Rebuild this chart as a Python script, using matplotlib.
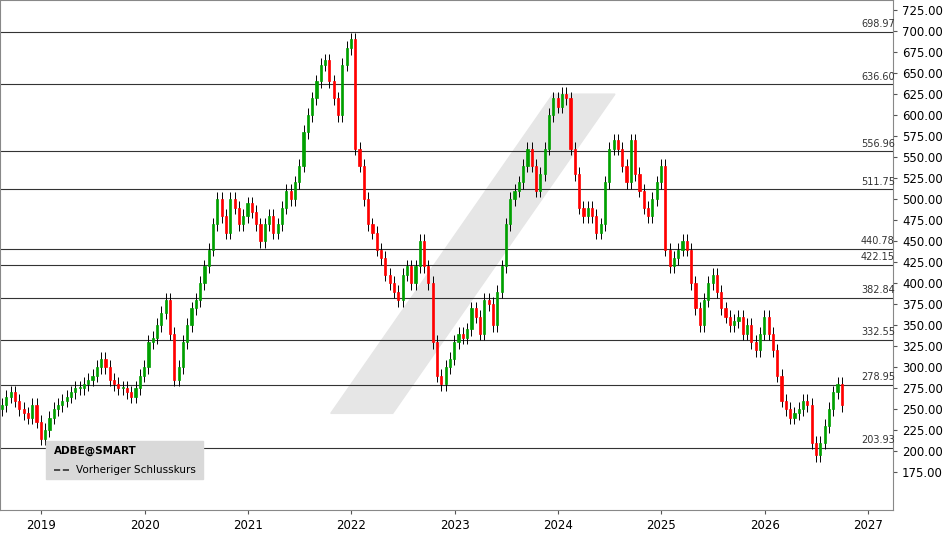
import matplotlib
matplotlib.use('Agg')
import numpy as np
import matplotlib.pyplot as plt
from matplotlib.patches import Polygon

# half-month closes (start ~2018.62)
closes = [255, 265, 270, 260, 250, 245, 240, 255, 235, 215,
          225, 240, 250, 255, 260, 265, 270, 275, 275, 280, 285, 290,
          300, 310, 300, 285, 280, 275, 275, 270, 265, 275, 290, 300,
          330, 335, 350, 365, 380, 340, 285, 300, 330, 350, 370, 380,
          400, 420, 440, 470, 500, 480, 460, 500, 490, 470, 480, 495,
          485, 470, 450, 470, 480, 460, 470, 490, 510, 500, 520, 540,
          580, 600, 620, 640, 660, 665, 640, 620, 600, 660, 680, 690,
          560, 540, 500, 470, 460, 440, 430, 410, 400, 390, 380, 410,
          420, 400, 420, 450, 420, 400, 330, 290, 280, 300, 310, 330,
          340, 335, 345, 370, 360, 340, 380, 375, 350, 390, 420, 470,
          500, 510, 520, 540, 560, 540, 510, 530, 560, 600, 620, 610,
          625, 620, 560, 530, 490, 480, 490, 480, 460, 470, 520, 560,
          570, 560, 540, 520, 570, 530, 510, 490, 480, 500, 520, 540,
          440, 420, 430, 440, 450, 440, 400, 370, 350, 380, 400, 410,
          390, 370, 360, 350, 355, 360, 340, 350, 330, 320, 340, 360,
          340, 320, 290, 260, 250, 240, 245, 250, 260, 255, 210, 195,
          210, 230, 250, 270, 280, 255]
start_year = 2018.62
levels = [698.97, 636.60, 556.96, 511.75, 440.78, 422.15, 382.84, 332.55, 278.95, 203.93]
yticks = list(range(175, 726, 25))
years = list(range(2019, 2028))

fig = plt.figure(figsize=(9.48, 5.34), dpi=100)
ax = fig.add_axes([0.0, 0.045, 0.942, 0.955])

# watermark band
ax.add_patch(Polygon([(2021.8, 245), (2022.4, 245), (2024.55, 625), (2023.95, 625)],
                     closed=True, color='#e6e6e6', zorder=0))

for lv in levels:
    ax.axhline(lv, color='#333333', lw=0.8, zorder=1)
    ax.text(2026.93, lv + 3, f'{lv:.2f}', fontsize=7, color='#333333', va='bottom', ha='left')

dt = 1 / 24
w = dt * 0.5
prev = closes[0] - 5
for i, c in enumerate(closes):
    x = start_year + i * dt
    o = prev
    hi = max(o, c) + 8
    lo = min(o, c) - 8
    col = '#00a000' if c >= o else '#ff0000'
    ax.vlines(x, lo, hi, color='black', lw=0.7, zorder=2)
    ax.bar(x, max(abs(c - o), 1.5), bottom=min(o, c), width=w, color=col,
           edgecolor=col, lw=0.5, zorder=3)
    prev = c

ax.set_xlim(start_year - 0.02, 2027.24)
ax.set_ylim(130, 737)
ax.yaxis.tick_right()
ax.set_yticks(yticks)
ax.set_yticklabels([f'{v:.2f}' for v in yticks], fontsize=8.5)
ax.set_xticks(years)
ax.set_xticklabels([str(y) for y in years], fontsize=8.5)
ax.tick_params(direction='out', length=3, color='#555555')
for s in ax.spines.values():
    s.set_color('#888888')
    s.set_linewidth(0.8)

# legend box
ax.add_patch(plt.Rectangle((0.052, 0.06), 0.175, 0.075, transform=ax.transAxes,
                           color='#d9d9d9', zorder=4))
ax.text(0.06, 0.115, 'ADBE@SMART', transform=ax.transAxes, fontsize=7.5,
        fontweight='bold', va='center', zorder=5)
ax.plot([0.061, 0.078], [0.078, 0.078], transform=ax.transAxes, color='#333333',
        lw=1.2, ls='--', zorder=5)
ax.text(0.085, 0.078, 'Vorheriger Schlusskurs', transform=ax.transAxes, fontsize=7.5,
        va='center', zorder=5)

fig.savefig('out.png', dpi=100)
